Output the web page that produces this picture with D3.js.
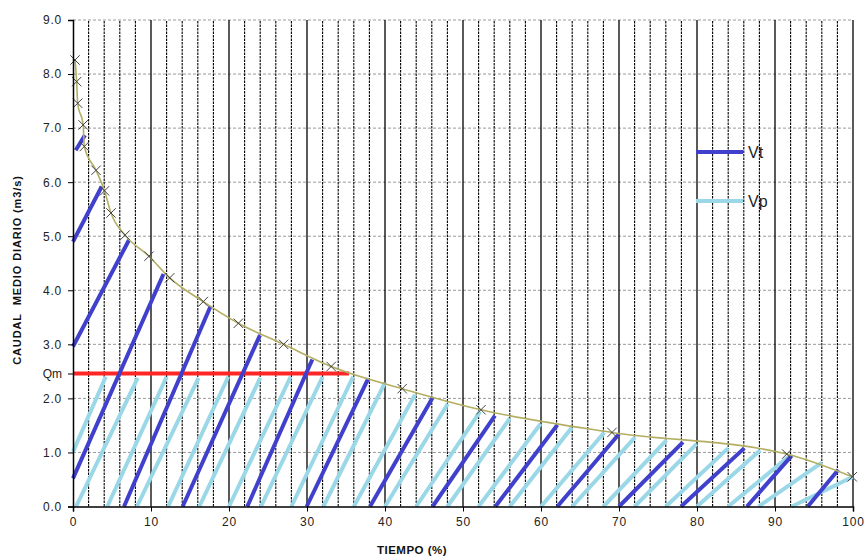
<!DOCTYPE html>
<html>
<head>
<meta charset="utf-8">
<script src="https://cdn.jsdelivr.net/npm/d3@7"></script>
<style>
	body { margin: 0; background: #fff; }
	svg { display: block; font-family: "Liberation Sans", Arial, sans-serif; }
</style>
</head>
<body>
<svg id="chart" width="864" height="557"></svg>
<script>
// curva de duracion (tiempo %, caudal m3/s)
var curveTime = [0.26, 0.47, 0.6, 1.3, 1.45, 2.95, 4.04, 4.87, 6.67, 9.74, 12.4, 16.7, 21.2, 27.0, 33.1, 42.2, 52.3, 69.1, 91.5, 99.9];
var curveFlow = [8.26, 7.86, 7.46, 7.06, 6.66, 6.22, 5.84, 5.43, 5.02, 4.63, 4.23, 3.79, 3.39, 3.0, 2.59, 2.18, 1.79, 1.37, 0.97, 0.55];

var qm = 2.46;
var qmEnd = 35.4;

// Vt hatch segments [x1, y1, x2, y2]
var vtSegments = [
	[0.35, 6.59, 1.54, 6.87],
	[0, 4.90, 3.68, 5.92],
	[0, 2.96, 7.18, 4.93],
	[0, 0.52, 11.6, 4.30],
	[6.54, 0, 17.65, 3.71],
	[14.06, 0, 23.97, 3.17],
	[22.35, 0, 30.68, 2.72],
	[29.96, 0, 37.86, 2.37],
	[38.08, 0, 46.1, 2.01],
	[46.1, 0, 54.1, 1.68],
	[54.15, 0, 62.1, 1.51],
	[62.1, 0, 70.0, 1.34],
	[70.0, 0, 78.2, 1.19],
	[77.95, 0, 86.07, 1.08],
	[86.4, 0, 92.14, 0.94],
	[94.2, 0, 98.12, 0.68]
];

// Vp hatch segments [x1, y1, x2, y2]
var vpSegments = [
	[0, 1.01, 4.2, 2.40],
	[0.4, 0, 8.3, 2.38],
	[4.4, 0, 12.0, 2.40],
	[8.2, 0, 16.1, 2.38],
	[12.2, 0, 19.9, 2.40],
	[16.2, 0, 24.0, 2.38],
	[20.0, 0, 27.9, 2.40],
	[24.1, 0, 32.0, 2.40],
	[28.0, 0, 35.9, 2.40],
	[32.1, 0, 40.0, 2.29],
	[36.0, 0, 43.85, 2.07],
	[40.0, 0, 48.05, 1.90],
	[44.0, 0, 52.2, 1.76],
	[48.0, 0, 56.0, 1.63],
	[52.0, 0, 59.95, 1.53],
	[56.0, 0, 63.95, 1.46],
	[60.0, 0, 68.1, 1.37],
	[64.0, 0, 72.05, 1.28],
	[68.0, 0, 76.1, 1.23],
	[72.0, 0, 79.96, 1.16],
	[76.0, 0, 84.0, 1.08],
	[80.0, 0, 88.1, 1.04],
	[84.0, 0, 92.0, 0.95],
	[87.9, 0, 96.0, 0.81],
	[92.14, 0, 100, 0.55]
];

var yTicks = [0, 1, 2, 3, 4, 5, 6, 7, 8, 9];
var xTicks = [0, 10, 20, 30, 40, 50, 60, 70, 80, 90, 100];
var xGrid = d3.range(0, 101, 2);

var legendItems = ["Vt", "Vp"];
var colors = { Vt: "#4040cc", Vp: "#9ad8e8" };

var svg = d3.select("#chart");

var x = d3.scaleLinear().domain([0, 100]).range([73, 853]);
var y = d3.scaleLinear().domain([0, 9]).range([506.5, 20]);

// horizontal grid
svg.append("g").selectAll("line")
	.data(yTicks.slice(1))
	.join("line")
	.attr("x1", x(0)).attr("x2", x(100))
	.attr("y1", function (d) { return y(d); })
	.attr("y2", function (d) { return y(d); })
	.attr("stroke", "#9a9a9a")
	.attr("stroke-dasharray", "3,2");

// vertical grid, solid each 10
svg.append("g").selectAll("line")
	.data(xGrid.slice(1))
	.join("line")
	.attr("x1", function (d) { return x(d); })
	.attr("x2", function (d) { return x(d); })
	.attr("y1", y(0)).attr("y2", y(9))
	.attr("stroke", "#000")
	.attr("stroke-width", function (d) { return d % 10 == 0 ? 1.3 : 1.1; })
	.attr("stroke-dasharray", function (d) { return d % 10 == 0 ? null : "2.5,1"; });

// hatch Vp
svg.append("g").selectAll("line")
	.data(vpSegments)
	.join("line")
	.attr("x1", function (d) { return x(d[0]); })
	.attr("y1", function (d) { return y(d[1]); })
	.attr("x2", function (d) { return x(d[2]); })
	.attr("y2", function (d) { return y(d[3]); })
	.attr("stroke", colors.Vp)
	.attr("stroke-width", 4);

// Qm
svg.append("line")
	.attr("x1", x(0)).attr("x2", x(qmEnd))
	.attr("y1", y(qm)).attr("y2", y(qm))
	.attr("stroke", "#ff2626")
	.attr("stroke-width", 4);

// hatch Vt
svg.append("g").selectAll("line")
	.data(vtSegments)
	.join("line")
	.attr("x1", function (d) { return x(d[0]); })
	.attr("y1", function (d) { return y(d[1]); })
	.attr("x2", function (d) { return x(d[2]); })
	.attr("y2", function (d) { return y(d[3]); })
	.attr("stroke", colors.Vt)
	.attr("stroke-width", 4);

// duration curve
var pts = curveTime.map(function (t, i) { return [t, curveFlow[i]]; });
var line = d3.line()
	.x(function (d) { return x(d[0]); })
	.y(function (d) { return y(d[1]); })
	.curve(d3.curveMonotoneX);

svg.append("path")
	.attr("d", line(pts))
	.attr("fill", "none")
	.attr("stroke", "#b3ae62")
	.attr("stroke-width", 1.6);

svg.append("g").selectAll("path")
	.data(pts)
	.join("path")
	.attr("transform", function (d) { return "translate(" + x(d[0]) + "," + y(d[1]) + ")"; })
	.attr("d", d3.symbol(d3.symbolTimes, 60))
	.attr("fill", "none")
	.attr("stroke", "#444")
	.attr("stroke-width", 1);

// axes
var yAxis = d3.axisLeft(y)
	.tickValues(yTicks.concat([qm]))
	.tickSize(5)
	.tickPadding(6)
	.tickFormat(function (d) { return d == qm ? "Qm" : d3.format(".1f")(d); });

var gy = svg.append("g").attr("transform", "translate(" + x(0) + ",0)").call(yAxis);

var xAxis = d3.axisBottom(x)
	.tickValues(xTicks)
	.tickSize(5)
	.tickPadding(6)
	.tickFormat(d3.format("d"));

var gx = svg.append("g").attr("transform", "translate(0," + y(0) + ")").call(xAxis);

[gx, gy].forEach(function (g) {
	g.select(".domain").attr("stroke", "#000").attr("stroke-width", 1.5);
	g.selectAll(".tick line").attr("stroke", "#000");
	g.selectAll(".tick text")
		.attr("fill", "#222")
		.style("font-size", "12px")
		.style("letter-spacing", "0.8px")
		.style("font-family", "'Liberation Sans', Arial, sans-serif");
});
gy.selectAll(".tick text").filter(function (d) { return d == qm; })
	.style("letter-spacing", "0px");

// titles
svg.append("text")
	.attr("x", 412).attr("y", 554)
	.attr("text-anchor", "middle")
	.style("font-size", "11.5px")
	.style("font-weight", "bold")
	.style("letter-spacing", "0.5px")
	.attr("fill", "#111")
	.text("TIEMPO (%)");

svg.append("text")
	.attr("transform", "translate(21,270) rotate(-90)")
	.attr("text-anchor", "middle")
	.style("font-size", "11px")
	.style("font-weight", "bold")
	.style("letter-spacing", "0.9px")
	.style("white-space", "pre")
	.attr("fill", "#111")
	.text("CAUDAL  MEDIO DIARIO (m3/s)");

// legend
var legend = svg.append("g").selectAll("g")
	.data(legendItems)
	.join("g")
	.attr("transform", function (d, i) { return "translate(696," + (152 + i * 49) + ")"; });

legend.append("line")
	.attr("x1", 0).attr("x2", 47)
	.attr("stroke", function (d) { return colors[d]; })
	.attr("stroke-width", 4);

legend.append("text")
	.attr("x", 52).attr("y", 6)
	.style("font-size", "16px")
	.attr("fill", "#222")
	.text(function (d) { return d; });
</script>
</body>
</html>
